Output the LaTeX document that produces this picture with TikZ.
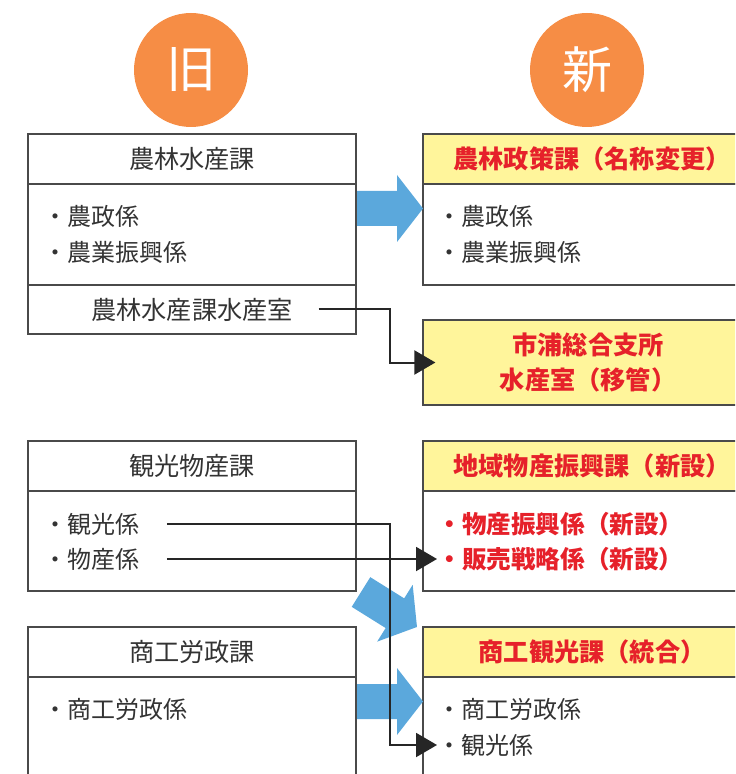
\documentclass[tikz,border=0pt]{standalone}
\usepackage{fontspec}
\setmainfont{Noto Sans CJK JP}
\usetikzlibrary{arrows.meta}

\definecolor{kyuorange}{HTML}{F68D45}
\definecolor{yajiblue}{HTML}{5BA8DC}
\definecolor{midashi}{HTML}{FFF59B}
\definecolor{shinred}{HTML}{E6212A}
\definecolor{wakugray}{HTML}{4A4A4A}
\definecolor{moji}{HTML}{333333}

\tikzset{
  maru/.style={circle, fill=kyuorange, minimum size=57pt, inner sep=0,
    text=white, font=\fontsize{25}{25}\selectfont},
  lbox/.style={draw=wakugray, line width=0.6pt, minimum width=164pt, inner sep=0,
    text=moji, font=\fontsize{12.6}{14}\selectfont},
  rbox/.style={lbox, minimum width=169pt},
  rhdr/.style={rbox, fill=midashi, minimum height=25pt, text=shinred,
    font=\fontsize{12.6}{17.5}\selectfont\bfseries},
  item/.style={anchor=west, inner sep=0, text=moji, font=\fontsize{12}{14}\selectfont},
  newitem/.style={item, text=shinred, font=\fontsize{12.3}{14}\selectfont\bfseries},
  conn/.style={draw=black!85, line width=1pt, -{Triangle[length=10.5pt,width=12pt]}},
  bigarrow/.pic={
    \fill[yajiblue] (0,-17.5) -- (40,-17.5) -- (40,-33.5) -- (66,0)
      -- (40,33.5) -- (40,17.5) -- (0,17.5) -- cycle;
  }
}

\begin{document}
\begin{tikzpicture}[x=0.5pt,y=-0.5pt]
\useasboundingbox (0,0) rectangle (735,774);
\clip (0,0) rectangle (735,774);

\node[maru] (kyu) at (191,70) {旧};
\node[maru] (shin) at (587,70) {新};

% left side
\node[lbox, minimum height=25pt] (nrsH) at (192,159) {農林水産課};
\node[lbox, minimum height=50.5pt] (nrsB) at (192,234.5) {};
\node[lbox, minimum height=24.5pt] (suisan) at (192,309.5) {農林水産課水産室};
\node[item] (oNosei) at (43,216) {・農政係};
\node[item] (oNogyo) at (43,252) {・農業振興係};

\node[lbox, minimum height=25pt] (kbH) at (192,466) {観光物産課};
\node[lbox, minimum height=50pt] (kbB) at (192,541) {};
\node[item] (oKanko) at (43,524) {・観光係};
\node[item] (oBussan) at (43,559) {・物産係};

\node[lbox, minimum height=25pt] (shoH) at (192,652) {商工労政課};
\node[lbox, minimum height=56.5pt] (shoB) at (192,733.5) {};
\node[item] (oShoko) at (43,709) {・商工労政係};

% right side
\node[rhdr] (nsH) at (592,159) {農林政策課（名称変更）};
\node[rbox, minimum height=50.5pt] (nsB) at (592,234.5) {};
\node[item] (nNosei) at (437,216) {・農政係};
\node[item] (nNogyo) at (437,252) {・農業振興係};

\node[rhdr, minimum width=165pt, minimum height=42.5pt, align=center] (shicho) at (588,362.5) {市浦総合支所\\水産室（移管）};

\node[rhdr] (chiikiH) at (592,466) {地域物産振興課（新設）};
\node[rbox, minimum height=50pt] (chiikiB) at (592,541) {};
\node[newitem] (nShinko) at (437,524) {・物産振興係（新設）};
\node[newitem] (nHanbai) at (437,559) {・販売戦略係（新設）};

\node[rhdr] (skH) at (592,652) {商工観光課（統合）};
\node[rbox, minimum height=56.5pt] (skB) at (592,733.5) {};
\node[item] (nShoko) at (437,709) {・商工労政係};
\node[item] (nKanko) at (437,745) {・観光係};

% blue arrows
\pic at (357,208.5) {bigarrow};
\pic[rotate=-32] at (361,592) {bigarrow};
\pic at (357,701.5) {bigarrow};

% connectors
\draw[conn] ([xshift=-19pt]suisan.east) -- ++(71,0) |- ([xshift=6.5pt]shicho.west);
\draw[conn] ([xshift=13.5pt]oKanko.east) -- ++(223,0) |- (nKanko.west);
\draw[conn] ([xshift=13.5pt]oBussan.east) -- (nHanbai.west);
\end{tikzpicture}
\end{document}
